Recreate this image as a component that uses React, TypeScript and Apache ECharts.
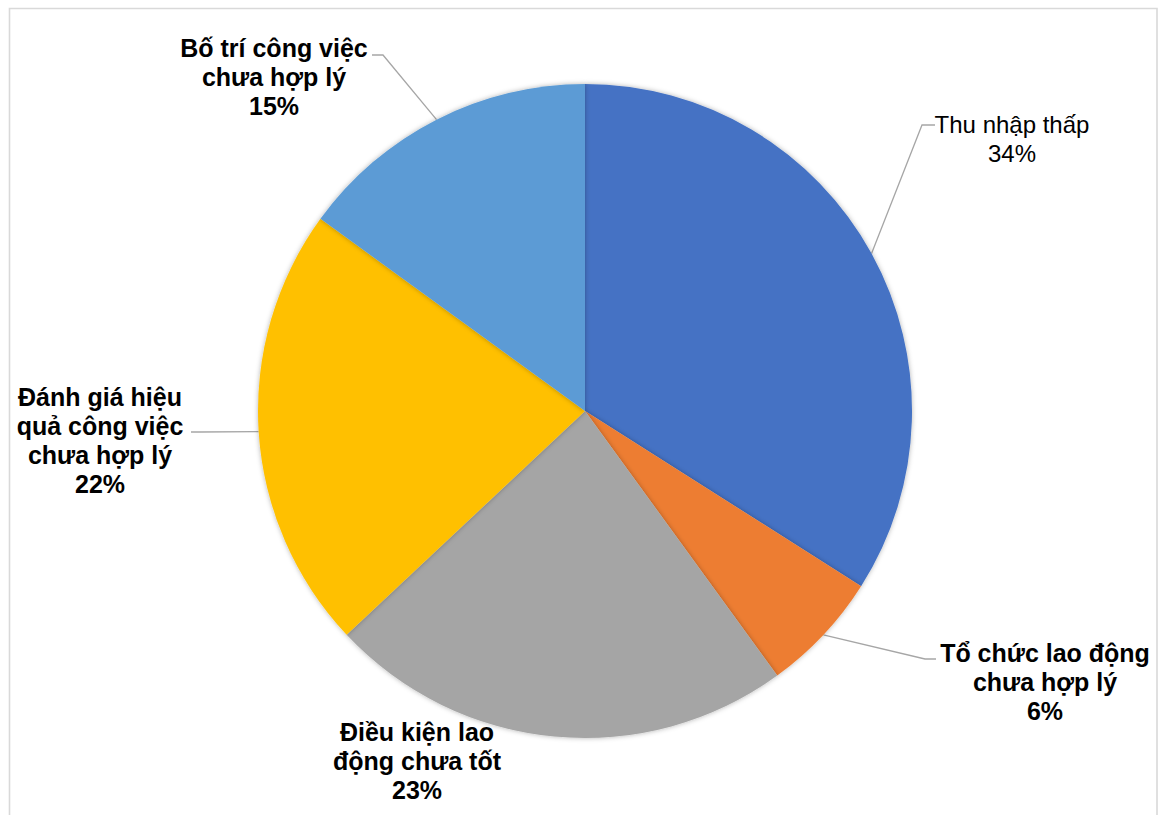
import React, { useEffect, useRef } from "react";
import * as echarts from "echarts";

const categories = [
  "Thu nhập thấp",
  "Tổ chức lao động chưa hợp lý",
  "Điều kiện lao động chưa tốt",
  "Đánh giá hiệu quả công việc chưa hợp lý",
  "Bố trí công việc chưa hợp lý",
];
const values = [34, 6, 23, 22, 15];
const colors = ["#4472C4", "#ED7D31", "#A5A5A5", "#FFC000", "#5B9BD5"];
const wrappedNames = [
  "Thu nhập thấp",
  "Tổ chức lao động\nchưa hợp lý",
  "Điều kiện lao\nđộng chưa tốt",
  "Đánh giá hiệu\nquả công việc\nchưa hợp lý",
  "Bố trí công việc\nchưa hợp lý",
];
const boldLabel = [false, true, true, true, true];

// layout (label block centres and leader-line bends)
const CENTER = [585, 411];
const RADIUS = 327;
const labelCenters = [
  [1012, 139],
  [1045, 682],
  [417, 761],
  [100, 440],
  [274, 77],
];
const labelBends: (number[][] | null)[] = [
  [[922, 125], [935, 125]],
  [[925, 659], [936, 659]],
  null,
  [[200, 432], [191, 432]],
  [[383, 55], [372, 55]],
];

export default function App() {
  const ref = useRef<HTMLDivElement>(null);
  useEffect(() => {
    if (!ref.current) return;
    const chart = echarts.init(ref.current, null, { renderer: "svg" });
    const total = values.reduce((a, b) => a + b, 0);
    const mids: number[] = [];
    let acc = 0;
    values.forEach((v) => {
      mids.push((acc + v / 2) / total);
      acc += v;
    });
    const edgePoint = (i: number) => {
      const t = mids[i] * Math.PI * 2;
      return [CENTER[0] + RADIUS * Math.sin(t), CENTER[1] - RADIUS * Math.cos(t)];
    };
    chart.setOption({
      animation: false,
      backgroundColor: "#ffffff",
      graphic: [
        {
          type: "rect",
          shape: { x: 9.5, y: 8.5, width: 1147.5, height: 840 },
          style: { fill: "none", stroke: "#d9d9d9", lineWidth: 1.6 },
          silent: true,
        },
      ],
      series: [
        {
          type: "pie",
          center: CENTER,
          radius: RADIUS,
          startAngle: 90,
          clockwise: true,
          avoidLabelOverlap: false,
          emphasis: { disabled: true },
          itemStyle: {
            borderWidth: 0,
            shadowBlur: 5,
            shadowColor: "rgba(0,0,0,0.3)",
          },
          label: {
            show: true,
            position: "outside",
            overflow: "none",
            color: "#000000",
            fontFamily: "Arial, 'Liberation Sans', sans-serif",
            fontSize: 24,
            lineHeight: 29,
            align: "center",
            formatter: (p: any) => `${wrappedNames[p.dataIndex]}\n${p.value}%`,
          },
          labelLine: {
            show: true,
            lineStyle: { color: "#A6A6A6", width: 1.3 },
          },
          labelLayout: (params: any) => {
            const i = params.dataIndex;
            const bends = labelBends[i];
            const res: any = {
              x: labelCenters[i][0],
              y: labelCenters[i][1],
              align: "center",
              verticalAlign: "middle",
            };
            if (bends) res.labelLinePoints = [edgePoint(i), ...bends];
            return res;
          },
          data: categories.map((name, i) => ({
            name,
            value: values[i],
            itemStyle: { color: colors[i] },
            label: {
              fontWeight: boldLabel[i] ? "bold" : "normal",
              fontSize: boldLabel[i] ? 25 : 24,
            },
            labelLine: { show: labelBends[i] !== null },
          })),
        },
      ],
    });
    return () => chart.dispose();
  }, []);
  return (
    <div
      ref={ref}
      style={{ position: "absolute", left: 0, top: 0, width: 1158, height: 815 }}
    />
  );
}
